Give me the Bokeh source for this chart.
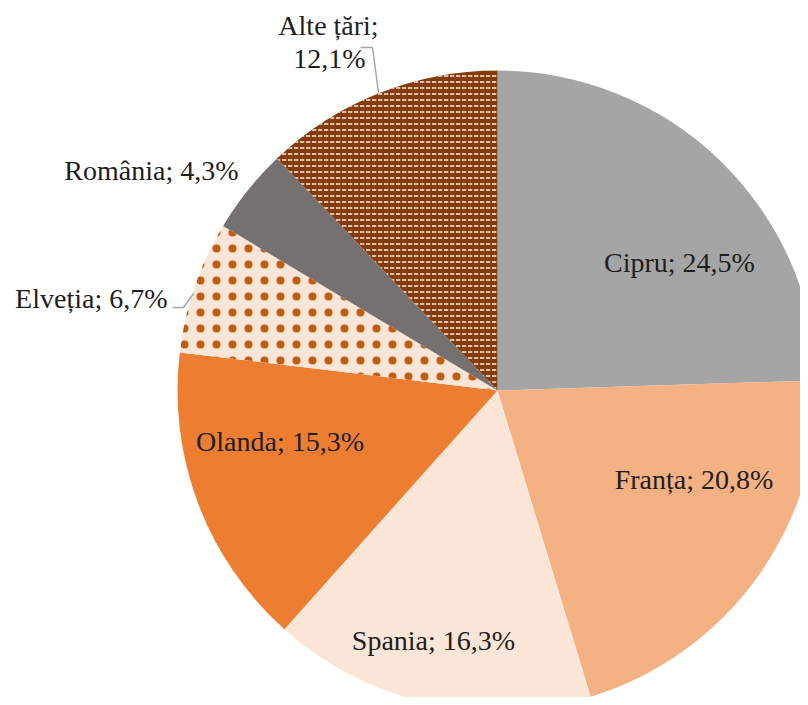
import math
from bokeh.plotting import figure
from bokeh.models import ColumnDataSource
from bokeh.core.properties import value
from bokeh.embed import file_html
from bokeh.resources import INLINE

# ---- data ----
countries = ["Cipru", "Franța", "Spania", "Olanda", "Elveția", "România", "Alte țări"]
shares = [24.5, 20.8, 16.3, 15.3, 6.7, 4.3, 12.1]
label_line1 = ["Cipru; 24,5%", "Franța; 20,8%", "Spania; 16,3%", "Olanda; 15,3%",
               "Elveția; 6,7%", "România; 4,3%", "Alte țări;"]
label_line2 = ["", "", "", "", "", "", "12,1%"]

# ---- styles ----
fill_colors = ["#A5A5A5", "#F4B183", "#FBE5D6", "#ED7D31", "#FBE5D6", "#767171", "#843C0C"]
hatch_patterns = [" ", " ", " ", " ", "dot", " ", "horizontal_dash"]
hatch_colors = ["white", "white", "white", "white", "#C55A11", "white", "#FFE8D8"]
hatch_scales = [12, 12, 12, 12, 16, 12, 6]
hatch_weights = [1, 1, 1, 1, 10, 1, 1.5]

W, H = 800, 697
CX, CY, R = 497, 307, 320   # pie centre / radius in pixel units

total = sum(shares)
starts, ends = [], []
acc = 0.0
for s in shares:
    starts.append(math.pi / 2 - 2 * math.pi * acc / total)
    acc += s
    ends.append(math.pi / 2 - 2 * math.pi * acc / total)

p = figure(width=W, height=H, x_range=(0, W), y_range=(0, H),
           output_backend="svg", toolbar_location=None, min_border=0)
p.axis.visible = False
p.grid.visible = False
p.outline_line_color = None
p.background_fill_color = "white"

src = ColumnDataSource(dict(start=starts, end=ends, color=fill_colors,
                            hp=hatch_patterns, hc=hatch_colors,
                            hs=hatch_scales, hw=hatch_weights))
p.wedge(x=CX, y=CY, radius=R, start_angle="start", end_angle="end",
        direction="clock", fill_color="color", line_color=None,
        hatch_pattern="hp", hatch_color="hc", hatch_scale="hs",
        hatch_weight="hw", source=src)

# label anchors: offsets (px) from pie centre
TXT_SHIFT = 10
label_dx = [182, 196.5, -64, -217.5, -330, -259, -169]
label_dy = [118, -99, -260, -61, 82, 210, 355]
label_align = ["center", "center", "center", "center", "right", "right", "center"]
label2_dx = [-168]
label2_dy = [322]

font = value("Liberation Serif")
FS = "28px"
src_lab = ColumnDataSource(dict(x=[CX + d for d in label_dx],
                                y=[CY + d + TXT_SHIFT for d in label_dy],
                                t=label_line1, a=label_align))
p.text(x="x", y="y", text="t", text_align="a", text_baseline="alphabetic",
       text_font=font, text_font_size=FS, text_color="#1E1E1E", source=src_lab)
p.text(x=[CX + d for d in label2_dx], y=[CY + d + TXT_SHIFT for d in label2_dy],
       text=[label_line2[-1]], text_align="center", text_baseline="alphabetic",
       text_font=font, text_font_size=FS, text_color="#1E1E1E")

# leader lines (offsets from pie centre)
lead_alte_dx = [-137, -125, -119]
lead_alte_dy = [343, 343, 298]
lead_elv_dx = [-325, -314, -304]
lead_elv_dy = [83, 83, 97]
p.line([CX + d for d in lead_alte_dx], [CY + d for d in lead_alte_dy],
       line_color="#A6A6A6", line_width=1.5)
p.line([CX + d for d in lead_elv_dx], [CY + d for d in lead_elv_dy],
       line_color="#A6A6A6", line_width=1.5)

open("out.html", "w").write(file_html(p, INLINE))
